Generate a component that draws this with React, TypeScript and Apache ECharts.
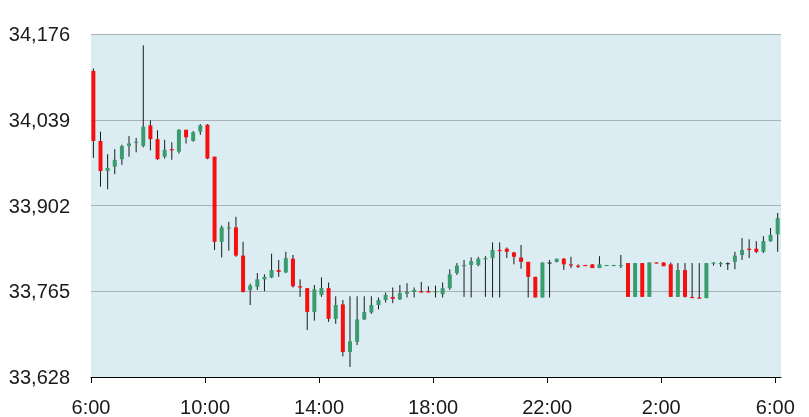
import React, { useEffect, useRef } from "react";
import * as echarts from "echarts";

// 15-minute candles starting 6:05 (minutes after 6:00)
const startMinute = 5;
const stepMinutes = 15;

const opens = [
  34117, 34005, 33957, 33964, 33976, 33997, 34003, 33997, 34030, 34008,
  33980, 33992, 33988, 34023, 34005, 34020, 34031, 33980, 33844, 33866,
  33867, 33822, 33767, 33772, 33784, 33787, 33799, 33795, 33817, 33773,
  33770, 33732, 33759, 33770, 33721, 33744, 33668, 33684, 33720, 33731,
  33743, 33751, 33756, 33752, 33761, 33764, 33765, 33765, 33764, 33760,
  33770, 33794, 33806, 33807, 33807, 33817, 33818, 33831, 33833, 33827,
  33819, 33812, 33788, 33755, 33811, 33812, 33817, 33808, 33806, 33807,
  33808, 33802, 33806, 33806, 33806, 33810, 33756, 33810, 33756, 33811,
  33811, 33808, 33756, 33799, 33756, 33755, 33754, 33810, 33809, 33810,
  33812, 33823, 33833, 33833, 33828, 33845, 33856,
];
const closes = [
  34005, 33957, 33962, 33975, 33997, 34001, 34004, 34028, 34008, 33976,
  33991, 33990, 34023, 34011, 34019, 34030, 33977, 33844, 33867, 33867,
  33822, 33764, 33774, 33784, 33788, 33799, 33796, 33818, 33773, 33771,
  33732, 33768, 33770, 33721, 33743, 33668, 33685, 33720, 33732, 33743,
  33751, 33759, 33753, 33762, 33764, 33767, 33763, 33763, 33765, 33770,
  33792, 33806, 33807, 33813, 33817, 33818, 33831, 33830, 33828, 33820,
  33812, 33788, 33755, 33811, 33811, 33817, 33808, 33806, 33805, 33806,
  33802, 33808, 33807, 33807, 33807, 33756, 33810, 33756, 33811, 33810,
  33805, 33756, 33799, 33756, 33755, 33754, 33810, 33811, 33810, 33810,
  33822, 33831, 33831, 33828, 33845, 33855, 33882,
];
const lows = [
  33978, 33932, 33928, 33952, 33967, 33980, 33987, 33995, 33990, 33975,
  33977, 33975, 33985, 34001, 34004, 34015, 33976, 33831, 33819, 33830,
  33820, 33763, 33743, 33767, 33765, 33786, 33788, 33794, 33771, 33756,
  33703, 33718, 33756, 33716, 33713, 33661, 33644, 33679, 33719, 33729,
  33736, 33747, 33746, 33751, 33755, 33755, 33763, 33763, 33755, 33755,
  33767, 33791, 33756, 33755, 33805, 33756, 33755, 33755, 33818, 33808,
  33801, 33755, 33755, 33755, 33755, 33811, 33799, 33802, 33802, 33806,
  33802, 33802, 33806, 33806, 33802, 33756, 33756, 33756, 33756, 33810,
  33805, 33756, 33756, 33755, 33754, 33754, 33754, 33806, 33804, 33799,
  33800, 33815, 33818, 33826, 33826, 33844, 33828,
];
const highs = [
  34121, 34020, 33984, 33992, 33999, 34013, 34010, 34158, 34038, 34022,
  34007, 34003, 34024, 34023, 34021, 34032, 34032, 33980, 33870, 33876,
  33884, 33844, 33777, 33794, 33792, 33825, 33815, 33828, 33823, 33784,
  33770, 33775, 33787, 33779, 33757, 33751, 33757, 33757, 33757, 33757,
  33755, 33763, 33771, 33775, 33778, 33771, 33780, 33773, 33774, 33779,
  33800, 33810, 33815, 33819, 33820, 33821, 33843, 33843, 33835, 33828,
  33839, 33812, 33788, 33811, 33815, 33817, 33818, 33820, 33808, 33807,
  33808, 33821, 33807, 33807, 33823, 33810, 33810, 33810, 33811, 33811,
  33811, 33811, 33810, 33810, 33810, 33810, 33810, 33811, 33812, 33811,
  33828, 33850, 33848, 33845, 33853, 33866, 33890,
];

const yTicks = [33628, 33765, 33902, 34039, 34176];
const xTicks = [0, 240, 480, 720, 960, 1200, 1440];
const xMax = 1452;

const upColor = "#3a9b6f";
const downColor = "#f51010";
const wickColor = "#1a1a1a";

export default function App() {
  const ref = useRef<HTMLDivElement>(null);
  useEffect(() => {
    if (!ref.current) return;
    const chart = echarts.init(ref.current, null, { renderer: "svg" });
    const data = opens.map((o, i) => [
      startMinute + i * stepMinutes,
      o,
      closes[i],
      lows[i],
      highs[i],
    ]);
    const font = "'Liberation Sans', Arial, sans-serif";
    chart.setOption({
      animation: false,
      grid: {
        left: 91,
        right: 28,
        top: 34,
        bottom: 40,
        show: true,
        backgroundColor: "#dbedf3",
        borderWidth: 0,
      },
      xAxis: {
        type: "value",
        min: 0,
        max: xMax,
        axisLine: { show: true, onZero: false, lineStyle: { color: "#000", width: 1 } },
        axisTick: { show: true, length: 6, customValues: xTicks, lineStyle: { color: "#000" } },
        axisLabel: {
          customValues: xTicks,
          margin: 20,
          fontSize: 20,
          fontFamily: font,
          color: "#1a1a1a",
          formatter: (v: number) => `${(6 + Math.round(v / 60)) % 24}:00`,
        },
        splitLine: { show: false },
      },
      yAxis: {
        type: "value",
        min: yTicks[0],
        max: yTicks[yTicks.length - 1],
        axisLine: { show: false },
        axisTick: { show: false, customValues: yTicks },
        axisLabel: {
          customValues: yTicks,
          margin: 21,
          fontSize: 20,
          fontFamily: font,
          color: "#1a1a1a",
          formatter: (v: number) => v.toLocaleString("en-US"),
        },
        splitLine: { show: true, lineStyle: { color: "#a9b1b4", width: 1.2 } },
      },
      series: [
        {
          type: "custom",
          data,
          encode: { x: 0, y: [1, 2, 3, 4] },
          renderItem: (params: any, api: any) => {
            const x = api.value(0);
            const o = api.value(1);
            const c = api.value(2);
            const l = api.value(3);
            const h = api.value(4);
            const pO = api.coord([x, o]);
            const pC = api.coord([x, c]);
            const pL = api.coord([x, l]);
            const pH = api.coord([x, h]);
            const w = 4;
            const top = Math.min(pO[1], pC[1]);
            const bh = Math.max(Math.abs(pO[1] - pC[1]), 1.2);
            const fill = c > o ? upColor : c < o ? downColor : "#333";
            return {
              type: "group",
              children: [
                {
                  type: "line",
                  shape: { x1: pH[0], y1: pH[1], x2: pL[0], y2: pL[1] },
                  style: { stroke: wickColor, lineWidth: 1 },
                },
                {
                  type: "rect",
                  shape: { x: pO[0] - w / 2, y: top, width: w, height: bh },
                  style: { fill },
                },
              ],
            };
          },
        },
      ],
    });
    return () => chart.dispose();
  }, []);
  return (
    <div
      ref={ref}
      style={{ position: "fixed", left: 0, top: 0, width: 809, height: 417 }}
    />
  );
}
